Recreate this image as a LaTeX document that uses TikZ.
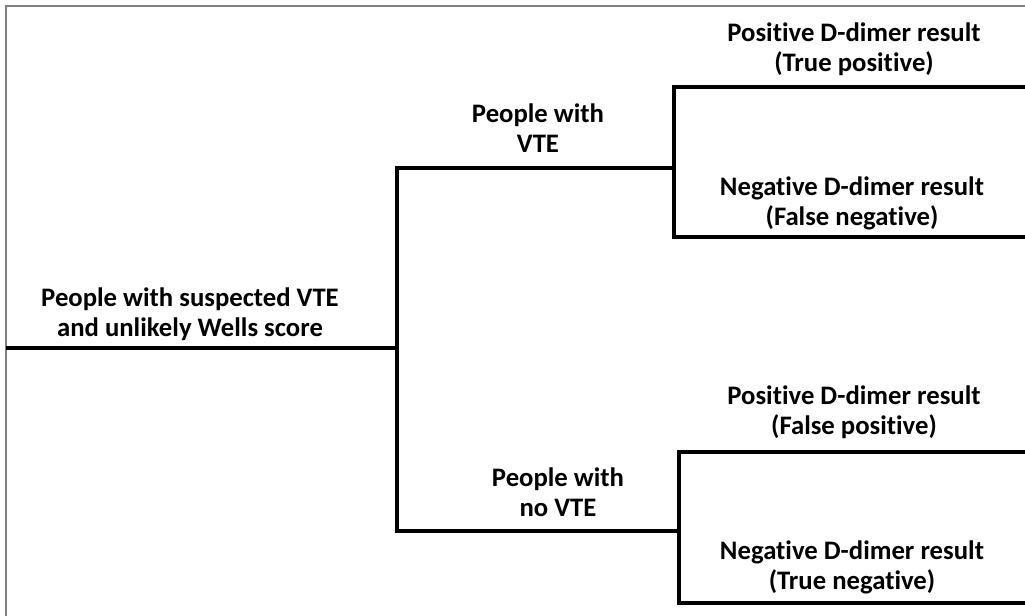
\documentclass[tikz,border=0pt]{standalone}
\usepackage{fontspec}
\setmainfont{Carlito}[Ligatures=NoCommon]
\usetikzlibrary{positioning}

\begin{document}
\begin{tikzpicture}[
    x=0.025cm, y=-0.025cm,
    every node/.style={font=\fontsize{19}{21.3}\selectfont\bfseries, align=center},
    branch/.style={line width=3pt, line join=miter},
    frame/.style={draw=black!50, line width=1.5pt}
]
\useasboundingbox (0,0) rectangle (1025,616);
\draw[frame] (6,616) -- (6,6) -- (1025,6);

% split points of the tree
\coordinate (start) at (6,348);
\coordinate (split) at (397,348);
\coordinate (vtesplit) at (674,168);
\coordinate (novtesplit) at (679,531);
\coordinate (tpend) at (1025,87);
\coordinate (fnend) at (1025,237);
\coordinate (fpend) at (1025,452);
\coordinate (tnend) at (1025,603);

\draw[branch] (start) -- (split);
\draw[branch] (vtesplit) -| (split) |- (novtesplit);
\draw[branch] (tpend) -| (vtesplit) |- (fnend);
\draw[branch] (fpend) -| (novtesplit) |- (tnend);

% labels
\node (root) at (190,314) {People with suspected VTE\\and unlikely Wells score};
\node (vte) at (538,128) {People with\\VTE};
\node (novte) at (558,492) {People with\\no VTE};
\node (tp) at (854,49) {Positive D-dimer result\\(True positive)};
\node (fn) at (852,203) {Negative D-dimer result\\(False negative)};
\node (fp) at (854,412) {Positive D-dimer result\\(False positive)};
\node (tn) at (852,567) {Negative D-dimer result\\(True negative)};
\end{tikzpicture}
\end{document}
